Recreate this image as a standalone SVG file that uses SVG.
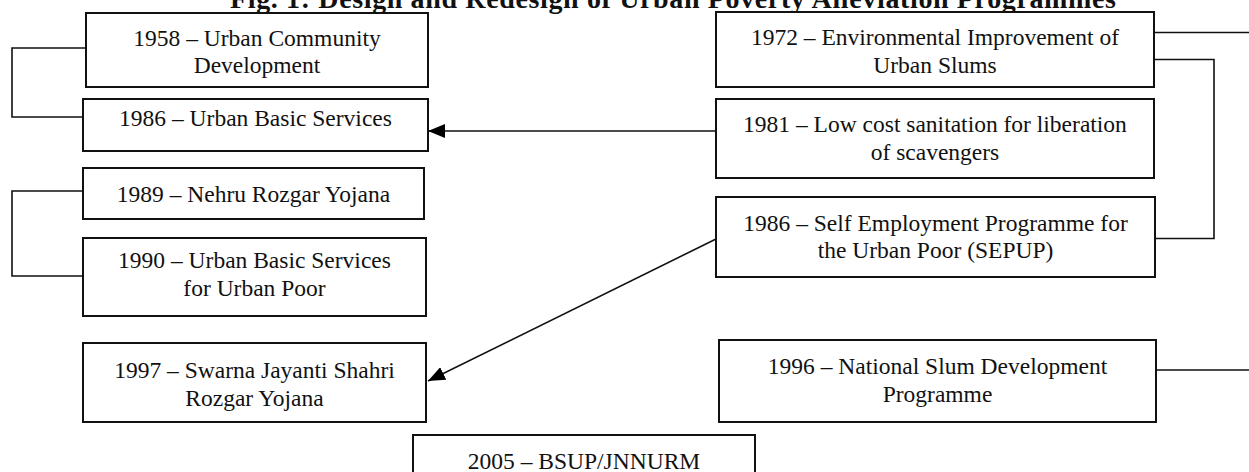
<svg xmlns="http://www.w3.org/2000/svg" width="1249" height="472" viewBox="0 0 1249 472">
<style>
.box{fill:#fff;stroke:#111;stroke-width:2}
.t{font-family:"Liberation Serif","Times New Roman",serif;font-size:23.5px;fill:#111;text-anchor:middle}
.title{font-family:"Liberation Serif","Times New Roman",serif;font-size:28px;font-weight:bold;fill:#111}
.c{fill:none;stroke:#111;stroke-width:1.6}
</style>
<defs>
<marker id="ah" markerUnits="userSpaceOnUse" viewBox="0 0 17 14" refX="17" refY="7" markerWidth="17" markerHeight="14" orient="auto">
<path d="M0,0 L17,7 L0,14 z" fill="#000"/>
</marker>
</defs>
<rect width="1249" height="472" fill="#fff"/>
<text class="title" x="230" y="8" textLength="886">Fig. 1: Design and Redesign of Urban Poverty Alleviation Programmes</text>

<g id="connectors">
<polyline class="c" points="86,48 12,48 12,117 83,117"/>
<polyline class="c" points="83,191 12,191 12,276 83,276"/>
<line class="c" x1="1154" y1="32.5" x2="1249" y2="32.5"/>
<polyline class="c" points="1154,59.5 1214,59.5 1214,238.5 1155,238.5"/>
<line class="c" x1="1156" y1="370" x2="1249" y2="370"/>
<line class="c" x1="716" y1="131" x2="428" y2="131" marker-end="url(#ah)"/>
<line class="c" x1="716" y1="239" x2="428" y2="381" marker-end="url(#ah)"/>
</g>

<g id="n1958">
<rect class="box" x="86" y="13" width="342" height="74"/>
<text class="t" x="257" y="45.5">1958 – Urban Community</text>
<text class="t" x="257" y="73">Development</text>
</g>
<g id="n1986ubs">
<rect class="box" x="83" y="99" width="345" height="52"/>
<text class="t" x="255.5" y="125.5">1986 – Urban Basic Services</text>
</g>
<g id="n1989">
<rect class="box" x="83" y="168" width="341" height="51"/>
<text class="t" x="253.5" y="201.5">1989 – Nehru Rozgar Yojana</text>
</g>
<g id="n1990">
<rect class="box" x="83" y="238" width="343" height="78"/>
<text class="t" x="254.5" y="268">1990 – Urban Basic Services</text>
<text class="t" x="254.5" y="295.5">for Urban Poor</text>
</g>
<g id="n1997">
<rect class="box" x="83" y="343" width="343" height="79"/>
<text class="t" x="254.5" y="378">1997 – Swarna Jayanti Shahri</text>
<text class="t" x="254.5" y="405.5">Rozgar Yojana</text>
</g>
<g id="n2005">
<rect class="box" x="413" y="435" width="342" height="50"/>
<text class="t" x="584" y="469">2005 – BSUP/JNNURM</text>
</g>
<g id="n1972">
<rect class="box" x="716" y="12" width="438" height="75"/>
<text class="t" x="935" y="45">1972 – Environmental Improvement of</text>
<text class="t" x="935" y="72.5">Urban Slums</text>
</g>
<g id="n1981">
<rect class="box" x="716" y="99" width="438" height="79"/>
<text class="t" x="935" y="132">1981 – Low cost sanitation for liberation</text>
<text class="t" x="935" y="159.5">of scavengers</text>
</g>
<g id="nSEPUP">
<rect class="box" x="716" y="197" width="439" height="80"/>
<text class="t" x="935.5" y="230.5">1986 – Self Employment Programme for</text>
<text class="t" x="935.5" y="258">the Urban Poor (SEPUP)</text>
</g>
<g id="n1996">
<rect class="box" x="719" y="340" width="437" height="82"/>
<text class="t" x="937.5" y="374">1996 – National Slum Development</text>
<text class="t" x="937.5" y="401.5">Programme</text>
</g>
</svg>
